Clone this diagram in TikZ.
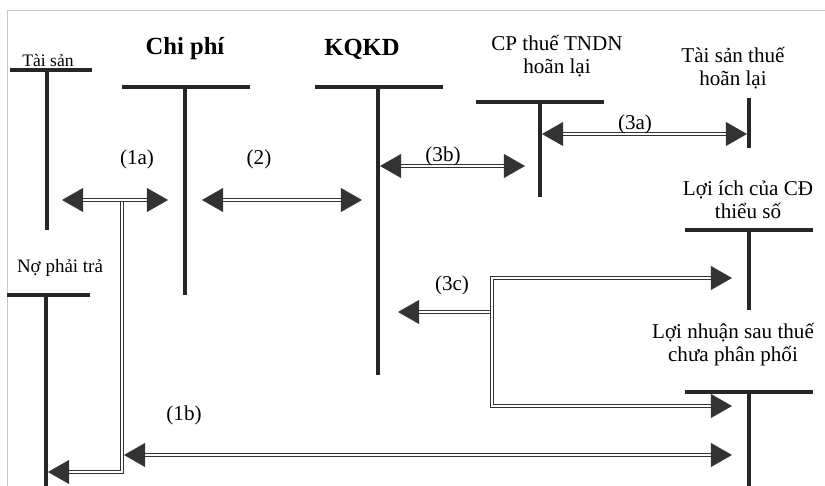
\documentclass[tikz,border=0pt]{standalone}
\usepackage{fontspec}
\setmainfont{Liberation Serif}
\usetikzlibrary{arrows.meta}

\begin{document}
\begin{tikzpicture}[x=0.025cm,y=-0.025cm,
  bar/.style={line width=2.8pt,draw=black!85},
  dbl/.style={double=white,double distance=1.4pt,line width=0.7pt,draw=black!80},
  arr/.style={dbl,-{Triangle[length=15pt,width=17pt]}},
  darr/.style={dbl,{Triangle[length=15pt,width=17pt]}-{Triangle[length=15pt,width=17pt]}},
  lbl/.style={font=\fontsize{15}{16.5}\selectfont,align=center,inner sep=0pt},
  head/.style={font=\fontsize{17.5}{20}\selectfont\bfseries,inner sep=0pt},
  num/.style={font=\fontsize{15}{16.5}\selectfont,inner sep=0pt}
]
\useasboundingbox (0,0) rectangle (825,486);
\draw[gray!45,line width=0.6pt] (7,486) -- (7,10) -- (825,10);

% account titles
\node[font=\fontsize{12.5}{14}\selectfont,inner sep=0pt] (ts) at (48,60) {Tài sản};
\node[head] (cp) at (185,49) {Chi phí};
\node[head] (kq) at (362,49) {KQKD};
\node[lbl] (cpt) at (557,56) {CP thuế TNDN\\hoãn lại};
\node[lbl] (tst) at (733,68) {Tài sản thuế\\hoãn lại};
\node[lbl] (lic) at (748,200) {Lợi ích của CĐ\\thiểu số};
\node[lbl] (ln) at (733,345) {Lợi nhuận sau thuế\\chưa phân phối};
\node[font=\fontsize{13.5}{15}\selectfont,inner sep=0pt] (npt) at (60,268) {Nợ phải trả};

% T accounts
\draw[bar] (10,70) -- (92,70);   \draw[bar] (47,70) -- (47,230);
\draw[bar] (122,87) -- (250,87); \draw[bar] (185,87) -- (185,295);
\draw[bar] (315,87) -- (443,87); \draw[bar] (378,87) -- (378,375);
\draw[bar] (476,102) -- (604,102); \draw[bar] (540,102) -- (540,197);
\draw[bar] (749,98) -- (749,148);
\draw[bar] (685,230) -- (813,230); \draw[bar] (749,230) -- (749,310);
\draw[bar] (685,392) -- (813,392); \draw[bar] (749,392) -- (749,490);
\draw[bar] (7,295) -- (90,295);  \draw[bar] (46,295) -- (46,490);

% arrow ends
\coordinate (a1l) at (62,200);  \coordinate (a1r) at (168,200);
\coordinate (a1j) at (122,201); \coordinate (a1n) at (48,472);
\coordinate (b1l) at (124,455); \coordinate (b1r) at (732,455);
\coordinate (a2l) at (202,200); \coordinate (a2r) at (362,200);
\coordinate (b3l) at (380,166); \coordinate (b3r) at (525,166);
\coordinate (a3l) at (542,134); \coordinate (a3r) at (747,134);
\coordinate (c3l) at (398,312); \coordinate (c3m) at (492,312);
\coordinate (c3t) at (732,278); \coordinate (c3b) at (732,406);

% transfers
\draw[arr] (a1j) |- (a1n);
\draw[darr] (a1l) -- (a1r);
\draw[darr] (b1l) -- (b1r);
\draw[darr] (a2l) -- (a2r);
\draw[darr] (b3l) -- (b3r);
\draw[darr] (a3l) -- (a3r);
\draw[arr] (c3m) -- (c3l);
\draw[darr] (c3t) -| (c3m) |- (c3b);

% step numbers
\node[num] (n1a) at (137,159) {(1a)};
\node[num] (n2) at (259,159) {(2)};
\node[num] (n3b) at (443,156) {(3b)};
\node[num] (n3a) at (635,124) {(3a)};
\node[num] (n3c) at (452,285) {(3c)};
\node[num] (n1b) at (184,415) {(1b)};
\end{tikzpicture}
\end{document}
